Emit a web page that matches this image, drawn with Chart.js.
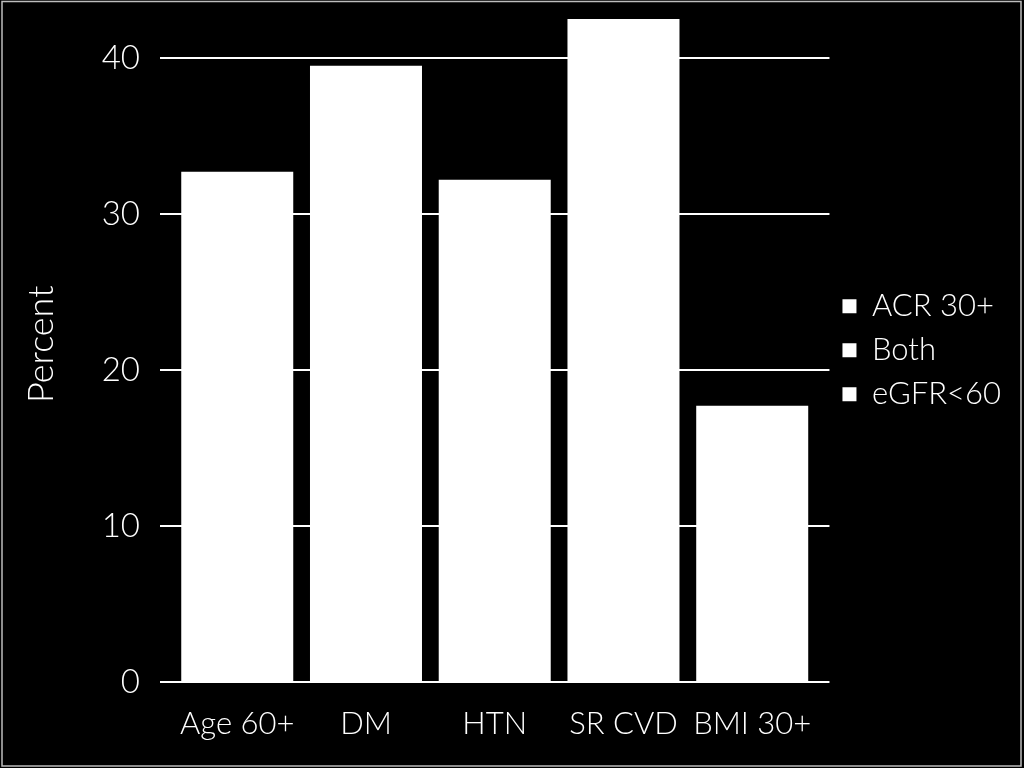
<!DOCTYPE html>
<html>
<head>
<meta charset="utf-8">
<script src="https://cdn.jsdelivr.net/npm/chart.js@4.4.0/dist/chart.umd.min.js"></script>
<style>
  html, body { margin: 0; padding: 0; background: #000; }
  #wrap { width: 1024px; height: 768px; }
</style>
</head>
<body>
<div id="wrap"><canvas id="myChart" width="1024" height="768"></canvas></div>
<script>
'use strict';
// categories and values
let categories = ['Age 60+', 'DM', 'HTN', 'SR CVD', 'BMI 30+'];
let seriesNames = ['ACR 30+', 'Both', 'eGFR<60'];
// all three series are white, so only the stacked total can be read
let totalPercent = [32.7, 39.5, 32.2, 42.5, 17.7];
let yTicks = [0, 10, 20, 30, 40];

let fontFamily = 'Lato, "Open Sans", sans-serif';
Chart.defaults.font.family = fontFamily;
Chart.defaults.font.weight = 300;
Chart.defaults.color = '#fff';

let frame = {
  id: 'frame',
  beforeDraw(chart) {
    let ctx = chart.ctx;
    ctx.save();
    ctx.fillStyle = '#000';
    ctx.fillRect(0, 0, chart.width, chart.height);
    ctx.strokeStyle = '#bdbdbd';
    ctx.lineWidth = 1.5;
    ctx.strokeRect(2, 1.5, 1019, 764.5);
    ctx.restore();
  }
};

let datasets = seriesNames.map(function(name, i) {
  return {
    label: name,
    data: categories.map(function(c, j) {
      return { x: j, y: i === 0 ? totalPercent[j] : null };
    }),
    backgroundColor: '#fff',
    borderWidth: 0,
    barPercentage: 0.87,
    categoryPercentage: 1
  };
});

new Chart(document.getElementById('myChart'), {
  type: 'bar',
  data: { datasets: datasets },
  plugins: [frame],
  options: {
    responsive: false,
    animation: false,
    layout: { padding: { top: 6.5, right: 13, bottom: 0, left: 0 } },
    plugins: {
      legend: {
        position: 'right',
        fullSize: false,
        title: { display: true, text: '', font: { size: 10 }, padding: 0 },
        labels: {
          color: '#fff',
          boxWidth: 14,
          boxHeight: 14,
          padding: 13,
          font: { size: 31, weight: 300 }
        }
      },
      tooltip: { enabled: false }
    },
    scales: {
      x: {
        type: 'linear',
        stacked: true,
        offset: false,
        min: -0.6,
        max: 4.6,
        grid: { display: false },
        border: { display: false },
        afterBuildTicks: function(scale) {
          scale.ticks = categories.map(function(c, j) { return { value: j }; });
        },
        afterFit: function(scale) {
          scale.height = 86;
          scale.paddingLeft = 0;
          scale.paddingRight = 0;
        },
        ticks: {
          color: '#fff',
          padding: 15,
          maxRotation: 0,
          autoSkip: false,
          font: { size: 31 },
          callback: function(v) { return categories[v]; }
        }
      },
      y: {
        stacked: true,
        min: 0,
        max: 43.3,
        afterBuildTicks: function(scale) {
          scale.ticks = yTicks.map(function(v) { return { value: v }; });
        },
        afterFit: function(scale) {
          scale.width = 160;
          scale.paddingTop = 0;
          scale.paddingBottom = 0;
        },
        grid: { color: '#fff', lineWidth: 2, drawTicks: false },
        border: { display: false },
        ticks: { color: '#fff', padding: 20, font: { size: 33 } },
        title: {
          display: true,
          text: 'Percent',
          color: '#fff',
          font: { size: 36 },
          padding: { top: 20, bottom: 0 }
        }
      }
    }
  }
});
</script>
</body>
</html>
